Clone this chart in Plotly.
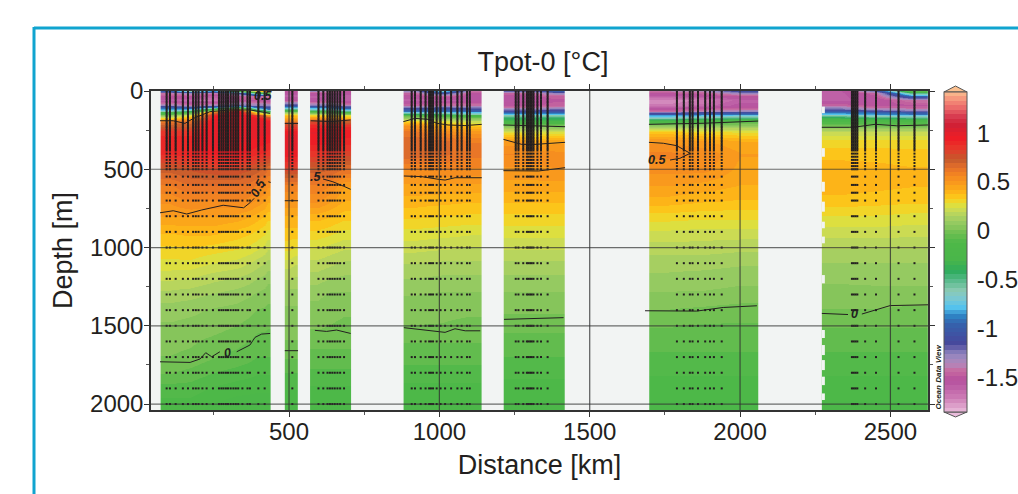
import plotly.graph_objects as go

# ---- depth levels of the temperature tables (m)
depth_levels = [0,15,30,60,90,105,115,125,135,145,155,170,190,220,260,320,400,500,600,700,800,900,1000,1100,1200,1300,1400,1500,1600,1700,1800,1900,2020]

# ---- section column edges (km)
edges_a = [73,135,210,290,370,420,440]
edges_b = [486,508,530]
edges_c = [570,615,660,705]
edges_d = [881,960,1060,1141]
edges_e = [1214,1280,1350,1418]
edges_f = [1698,1820,1940,2059]
edges_g = [2272,2390,2510,2625]

# ---- potential temperature per section (rows = depth_levels)
temp_a = [
[-1.0,-0.6,-0.9,-0.2,0.3,0.55],[-1.4,-1.3,-1.4,-1.2,-0.4,-0.1],[-1.5,-1.5,-1.6,-1.45,-1.4,-1.4],
[-1.6,-1.65,-1.7,-1.5,-1.5,-1.55],[-1.3,-1.4,-1.3,-1.2,-1.3,-1.3],[-1.0,-1.1,-.9,-.4,-1.0,-1.1],
[-.85,-.8,-.2,.5,-.6,-.9],[-.6,-.4,.3,1,-.1,-.4],[-.3,-.1,.6,1.05,.2,-.05],[-.1,.1,.8,1.05,.5,.2],
[.05,.25,.9,1.05,.8,.5],[.3,.45,.95,1.0,.95,.8],[.6,.65,1.0,1.0,1,.95],[.72,.72,1,1,1,1],
[.85,.85,1.0,1,.98,.98],[.92,.92,1,.98,.95,.93],[.88,.9,.93,.93,.88,.85],[.72,.75,.78,.78,.72,.65],
[.6,.65,.65,.65,.6,.53],[.52,.56,.55,.56,.5,.43],[.47,.47,.47,.45,.4,.35],[.38,.39,.39,.36,.32,.27],
[.32,.33,.31,.29,.25,.2],[.27,.27,.24,.22,.17,.13],[.2,.19,.16,.14,.1,.07],[.13,.12,.1,.08,.05,.03],
[.08,.07,.05,.04,.01,.0],[.05,.04,.03,.01,-.02,-.03],[.03,.02,.0,-.02,-.05,-.05],[.01,-.0,-.03,-.05,-.08,-.08],
[-.03,-.05,-.08,-.1,-.12,-.12],[-.1,-.1,-.13,-.15,-.16,-.16],[-.15,-.15,-.18,-.2,-.2,-.2]]
temp_b = [
[-1.5,-1.5],[-1.55,-1.55],[-1.6,-1.6],[-1.5,-1.5],[-1.1,-1.1],[-.85,-.85],[-.5,-.5],[-.1,-.1],[.1,.1],[.28,.28],
[.35,.35],[.45,.45],[.6,.6],[.8,.8],[.95,.95],[1.0,1.0],[.95,.95],[.8,.8],[.6,.6],[.5,.5],[.42,.42],[.36,.36],
[.3,.28],[.22,.2],[.15,.14],[.08,.08],[.05,.05],[.03,.03],[.01,.01],[-.03,-.03],[-.08,-.08],[-.12,-.12],[-.17,-.17]]
temp_c = [
[-1.3,-1.4,-1.5],[-1.5,-1.5,-1.55],[-1.6,-1.55,-1.6],[-1.55,-1.5,-1.6],[-1.25,-1.2,-1.35],[-.9,-.9,-1.05],
[-.7,-.7,-.85],[-.3,-.3,-.5],[-.05,-.05,-.15],[.15,.15,.05],[.3,.3,.25],[.5,.5,.42],[.75,.75,.7],[.9,.9,.85],
[.97,.97,.95],[.95,.95,.9],[.85,.85,.8],[.72,.7,.65],[.6,.56,.47],[.52,.47,.42],[.4,.38,.35],[.32,.3,.27],
[.24,.22,.2],[.18,.16,.14],[.12,.1,.09],[.07,.05,.05],[.04,.03,.02],[.02,.01,.0],[-.02,-.02,-.02],[-.05,-.05,-.05],
[-.09,-.09,-.09],[-.13,-.13,-.13],[-.17,-.17,-.17]]
temp_d = [
[-1.3,-.7,-1.4],[-1.45,-1.1,-1.5],[-1.55,-1.45,-1.55],[-1.6,-1.6,-1.55],[-1.45,-1.4,-1.4],[-1.25,-1.2,-1.25],
[-1.05,-1.0,-1.1],[-.9,-.9,-.95],[-.75,-.75,-.8],[-.4,-.45,-.6],[-.1,-.15,-.25],[.1,.05,.02],[.3,.25,.2],
[.5,.4,.35],[.62,.55,.5],[.68,.66,.6],[.68,.66,.62],[.56,.56,.55],[.46,.46,.46],[.4,.39,.38],[.34,.33,.32],
[.27,.26,.25],[.21,.2,.19],[.15,.14,.14],[.1,.09,.09],[.06,.05,.05],[.03,.02,.02],[.01,.01,.0],[-.03,-.03,-.03],
[-.06,-.06,-.06],[-.1,-.1,-.1],[-.14,-.14,-.14],[-.18,-.18,-.18]]
temp_e = [
[-1.2,-1.2,-1.0],[-1.45,-1.4,-1.3],[-1.55,-1.5,-1.45],[-1.55,-1.55,-1.5],[-1.5,-1.5,-1.45],[-1.4,-1.4,-1.35],
[-1.25,-1.25,-1.2],[-1.1,-1.1,-1.05],[-.95,-.95,-.95],[-.8,-.8,-.8],[-.6,-.6,-.6],[-.42,-.42,-.42],[-.25,-.25,-.25],
[.0,-.01,-.02],[.27,.25,.25],[.49,.42,.45],[.56,.55,.53],[.5,.5,.51],[.45,.45,.45],[.38,.38,.38],[.32,.32,.32],
[.26,.26,.26],[.2,.2,.2],[.14,.14,.14],[.09,.09,.09],[.05,.05,.05],[.02,.02,.02],[-.02,-.02,-.02],[-.05,-.05,-.05],
[-.08,-.08,-.08],[-.11,-.11,-.11],[-.15,-.15,-.15],[-.18,-.18,-.18]]
temp_f = [
[-1.4,-1.35,-1.1],[-1.5,-1.45,-1.3],[-1.6,-1.55,-1.5],[-1.75,-1.7,-1.6],[-1.7,-1.65,-1.55],[-1.6,-1.55,-1.5],
[-1.5,-1.45,-1.4],[-1.42,-1.35,-1.3],[-1.25,-1.15,-1.1],[-1.05,-.95,-.9],[-.85,-.8,-.75],[-.6,-.5,-.45],
[-.2,-.15,-.1],[.03,.05,.05],[.35,.3,.28],[.5,.47,.42],[.57,.55,.47],[.53,.53,.45],[.47,.45,.42],[.4,.38,.37],
[.31,.3,.3],[.23,.22,.22],[.17,.17,.16],[.12,.12,.11],[.09,.08,.07],[.05,.05,.04],[.01,0,-.01],[-.03,-.04,-.04],
[-.06,-.06,-.06],[-.09,-.09,-.09],[-.12,-.12,-.12],[-.15,-.15,-.15],[-.18,-.18,-.18]]
temp_g = [
[-1.6,-1.2,-.1],[-1.6,-1.45,-.5],[-1.6,-1.5,-.95],[-1.6,-1.55,-1.4],[-1.45,-1.5,-1.5],[-1.3,-1.45,-1.45],
[-1.2,-1.3,-1.35],[-1.0,-1.1,-1.2],[-.9,-.95,-1.0],[-.78,-.85,-.9],[-.6,-.7,-.75],[-.35,-.4,-.45],[-.15,-.15,-.15],
[-.02,-.02,-.02],[.2,.2,.2],[.3,.3,.3],[.36,.36,.35],[.4,.39,.38],[.4,.39,.38],[.36,.35,.34],[.28,.28,.27],
[.22,.22,.21],[.15,.15,.15],[.1,.1,.1],[.07,.07,.07],[.03,.04,.04],[.01,.01,0],[-.03,-.03,-.03],[-.06,-.06,-.06],
[-.09,-.09,-.09],[-.12,-.12,-.12],[-.15,-.15,-.15],[-.18,-.18,-.18]]

# ---- station positions (km) and bottle depths (m)
stations = [93,104,123,147,164,181,190,199,212,226,247,267,275,282,290,297,306,315,323,331,345,362,370,398,419,
            511,
            598,614,628,636,644,652,661,670,683,
            908,919,938,954,966,972,979,991,1004,1019,1039,1060,1074,1092,1101,
            1254,1263,1279,1291,1296,1302,1307,1313,1326,1338,1360,
            1790,1813,1833,1842,1860,1884,1900,1913,1939,
            2372,2378,2384,2390,2416,2452,2527,2580]
bottle_depths = [0,10,20,30,40,50,60,70,80,90,100,110,120,130,140,150,160,170,180,190,200,210,220,230,240,250,260,270,
                 280,290,300,310,320,330,340,350,360,370,380,400,420,440,460,480,500,547,600,650,700,800,900,1000,
                 1100,1200,1300,1400,1500,1600,1700,1800,1900,2000]

# ---- contour lines read from the section (None = gap)
c_upper_km =    [71,115,154,182,237,304,370,437,None,486,530,None,572,640,705,None,880,919,962,991,1029,1085,1141,None,1213,1418,None,1697,1880,2060,None,2272,2365,2399,2449,2521,2625]
c_upper_m =     [190,190,207,175,132,121,121,143,None,207,207,None,190,195,185,None,196,175,181,206,217,221,213,None,217,228,None,213,206,192,None,232,232,226,213,222,217]
c_half_km =     [71,115,160,210,281,349,370,384,None,431,439,None,486,530,None,613,646,680,705,None,882,941,996,1019,1052,1141,None,1213,1274,1318,1418,None,1213,1330,1418,None,1697,1745,1789,1834,1800,1767]
c_half_m =      [778,765,786,760,730,746,714,686,None,580,584,None,701,701,None,562,580,607,628,None,543,547,564,569,554,554,None,309,341,341,328,None,509,511,490,None,328,334,349,398,430,441]
c_zero_km =     [71,115,171,204,223,243,270,None,326,370,387,409,437,None,486,530,None,586,625,658,705,None,882,952,997,1019,1052,1086,1136,None,1215,1413,None,1684,1778,1856,1944,2056,None,2272,2359,None,2405,2443,2499,2625]
c_zero_m =      [1730,1730,1734,1712,1672,1698,1666,None,1666,1623,1574,1553,1549,None,1659,1659,None,1529,1536,1527,1549,None,1512,1525,1538,1542,1519,1532,1532,None,1459,1448,None,1404,1406,1406,1383,1372,None,1421,1428,None,1425,1404,1371,1366]

# ---- depth ranges (m) where the last section's grid starts further east
g_notch_top =    [100,365,580,707,835,930,1176,1527,1623,1719,1825,1932]
g_notch_bottom = [142,420,643,771,877,973,1229,1578,1687,1783,1879,1974]

# ---- colour scale anchors
cb_values = [1.42,1.33,1.25,1.17,1.09,1.0,.935,.85,.73,.65,.56,.47,.39,.33,.275,.2,.10,.03,-.03,-.12,-.3,-.41,-.5,-.61,-.7,-.78,-.87,-.95,-1.15,-1.26,-1.36,-1.43,-1.53,-1.7,-1.85]
cb_colors = ["#fbc090","#f48c78","#ea6668","#d83c50","#cf2036","#e31f2b","#ee1d25","#e8362a","#c45a2c","#e4702a","#f58720","#fa9e1c","#fdb717","#fccd1c","#e2e039","#c4d95a","#9ccc64","#84c55a","#6abd50","#4db848","#4ab64a","#2dac5c","#56b98a","#8ccab4","#78c8d4","#55c4ee","#2f82c4","#3562ac","#46489c","#9286bf","#b387ba","#c8699f","#b5509e","#cc7ab4","#e9bcdb"]
cb_ticks = [-1.5,-1,-0.5,0,0.5,1]
cb_ticktext = ["-1.5","-1","-0.5","0","0.5","1"]

Z_MIN, Z_MAX = -1.85, 1.42
N_BANDS = 72

def rgb(h):
    return tuple(int(h[i:i+2], 16) for i in (1, 3, 5))

def color_at(v):
    pairs = list(zip(cb_values, cb_colors))
    for (v1, c1), (v0, c0) in zip(pairs, pairs[1:]):
        if v0 <= v <= v1:
            t = (v - v0) / (v1 - v0)
            a, b = rgb(c0), rgb(c1)
            return "rgb(%d,%d,%d)" % tuple(round(a[i] + (b[i] - a[i]) * t) for i in range(3))
    return cb_colors[-1]

scale = []
for i in range(N_BANDS):
    col = color_at(Z_MIN + (i + .5) / N_BANDS * (Z_MAX - Z_MIN))
    scale.append([i / N_BANDS, col])
    scale.append([(i + 1) / N_BANDS, col])

W, H = 1018, 494
L, R, T, B = 151, 928, 91, 410
pw, ph = R - L, B - T
def px(x): return (x - L) / pw
def py(y): return (B - y) / ph

fig = go.Figure()
for ed, tb in [(edges_a, temp_a), (edges_b, temp_b), (edges_c, temp_c), (edges_d, temp_d),
               (edges_e, temp_e), (edges_f, temp_f), (edges_g, temp_g)]:
    fig.add_trace(go.Heatmap(x=ed, y=depth_levels, z=tb, coloraxis="coloraxis", zsmooth="best",
                             showlegend=False, hoverinfo="skip"))

sx, sy = [], []
for s in stations:
    for d in bottle_depths:
        sx.append(s); sy.append(d)
fig.add_trace(go.Scatter(x=sx, y=sy, mode="markers", showlegend=False, hoverinfo="skip",
                         marker=dict(symbol="square", size=2, color="#231f20", line=dict(width=0))))

for cx, cy in [(c_upper_km, c_upper_m), (c_half_km, c_half_m), (c_zero_km, c_zero_m)]:
    fig.add_trace(go.Scatter(x=cx, y=cy, mode="lines", showlegend=False, hoverinfo="skip",
                             line=dict(color="#231f20", width=1)))

FONT = "Liberation Sans"
shapes = []
for t, b in zip(g_notch_top, g_notch_bottom):
    shapes.append(dict(type="rect", xref="x", yref="y", x0=edges_g[0], x1=edges_g[0] + 10, y0=t, y1=b,
                       fillcolor="#f2f4f3", line=dict(width=0), layer="above"))
for v in [500, 1000, 1500, 2000, 2500]:
    shapes.append(dict(type="line", xref="x", yref="paper", x0=v, x1=v, y0=0, y1=1,
                       line=dict(color="rgba(50,50,50,0.8)", width=1.2), layer="above"))
for v in [500, 1000, 1500, 2000]:
    shapes.append(dict(type="line", xref="paper", yref="y", x0=0, x1=1, y0=v, y1=v,
                       line=dict(color="rgba(50,50,50,0.7)", width=1.2), layer="above"))
# teal frame of the page
frame = "#10a4cf"
shapes.append(dict(type="line", xref="paper", yref="paper", x0=px(34), x1=px(1018), y0=py(28), y1=py(28), line=dict(color=frame, width=3)))
shapes.append(dict(type="line", xref="paper", yref="paper", x0=px(34), x1=px(34), y0=py(27), y1=py(494), line=dict(color=frame, width=3)))
# colour bar end caps
shapes.append(dict(type="path", xref="paper", yref="paper", fillcolor="#fbc090", line=dict(color="#555555", width=1),
                   path="M %.4f %.4f L %.4f %.4f L %.4f %.4f Z" % (px(944), py(92), px(955.5), py(86), px(967), py(92))))
shapes.append(dict(type="path", xref="paper", yref="paper", fillcolor="#e9bcdb", line=dict(color="#555555", width=1),
                   path="M %.4f %.4f L %.4f %.4f L %.4f %.4f Z" % (px(944), py(412), px(955.5), py(417), px(967), py(412))))

labels = [("0.5", 397, 620, -62), (".5", 587, 550, 0), ("0.5", 1724, 441, 0), ("0", 2379, 1425, 0),
          ("0", 296, 1672, -10), ("0.5", 413, 32, 0)]
ann = [dict(x=a, y=b, xref="x", yref="y", text="<b><i>%s</i></b>" % t, textangle=r, showarrow=False,
            font=dict(family=FONT, size=12.5, color="#231f20")) for t, a, b, r in labels]
ann.append(dict(x=px(937.5), y=py(377), xref="paper", yref="paper", xanchor="center", yanchor="middle",
                text="<b><i>Ocean Data View</i></b>", textangle=-90,
                showarrow=False, font=dict(family=FONT, size=8, color="#231f20")))

axis_common = dict(showgrid=False, zeroline=False, showline=True, linecolor="#333333", linewidth=1.5, mirror="ticks",
                   ticks="outside", ticklen=5, tickcolor="#333333", tickwidth=1,
                   tickfont=dict(family=FONT, size=24, color="#231f20"),
                   minor=dict(ticks="outside", ticklen=3, tickcolor="#555555", tickwidth=1, dtick=250))

fig.update_layout(
    width=W, height=H, autosize=False, paper_bgcolor="white", plot_bgcolor="#f2f4f3",
    margin=dict(l=L, r=W - R, t=T, b=H - B, autoexpand=False),
    title=dict(text="Tpot-0 [°C]", x=543 / W, xref="container", xanchor="center", y=1 - 62 / H, yref="container", yanchor="middle",
               font=dict(family=FONT, size=27, color="#231f20")),
    xaxis=dict(range=[41.0, 2625], tickvals=[500, 1000, 1500, 2000, 2500], ticktext=["500", "1000", "1500", "2000", "2500"],
               ticklabelstandoff=-6,
               title=dict(text="Distance [km]", standoff=12, font=dict(family=FONT, size=27, color="#231f20")), **axis_common),
    yaxis=dict(range=[2038, 0], tickvals=[0, 500, 1000, 1500, 2000], ticktext=["0", "500", "1000", "1500", "2000"],
               ticklabelstandoff=-4,
               title=dict(text="Depth [m]", standoff=10, font=dict(family=FONT, size=27, color="#231f20")), **axis_common),
    coloraxis=dict(cmin=Z_MIN, cmax=Z_MAX, colorscale=scale,
                   colorbar=dict(x=px(944), xanchor="left", y=py(92), yanchor="top", lenmode="pixels", len=320,
                                 thicknessmode="pixels", thickness=23, xpad=0, ypad=0, outlinecolor="#555555", outlinewidth=1,
                                 tickvals=cb_ticks, ticktext=cb_ticktext, ticks="outside", ticklen=5, tickcolor="rgba(0,0,0,0)",
                                 tickfont=dict(family=FONT, size=24, color="#231f20"))),
    shapes=shapes, annotations=ann,
)
fig.write_html("out.html", post_script="document.body.style.margin='0';", config=dict(displayModeBar=False))
